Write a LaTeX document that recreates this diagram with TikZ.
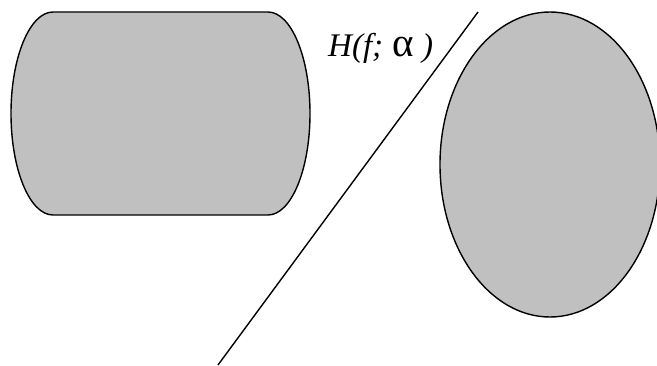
\documentclass[tikz,border=0pt]{standalone}
\usepackage{fontspec}
\setmainfont{Liberation Serif}
\begin{document}
\begin{tikzpicture}[x=1pt,y=1pt,
  shapeline/.style={draw=black,line width=1.4pt,fill={rgb,255:red,192;green,192;blue,192}},
  hline/.style={draw=black,line width=1.4pt},
  lbl/.style={anchor=base west,inner sep=0pt,font=\fontsize{33}{36}\selectfont}]
\useasboundingbox (0,0) rectangle (657,365);
\clip (0,0) rectangle (657,365);
% left rounded shape
\draw[shapeline] (53,353) -- (268,353)
  arc[start angle=90,end angle=-90,x radius=42,y radius=101.5]
  -- (53,150)
  arc[start angle=270,end angle=90,x radius=42,y radius=101.5] -- cycle;
% ellipse
\draw[shapeline] (550,200.5) ellipse[x radius=110,y radius=152.5];
% separating line
\coordinate (ltop) at (478,353);
\coordinate (lbot) at (218,0);
\draw[hline] (ltop) -- (lbot);
% label
\node[lbl] (hlabel) at (328,308) {\itshape H(f;\;{\upshape\fontsize{41}{41}\selectfont α}\ )};
\end{tikzpicture}
\end{document}
